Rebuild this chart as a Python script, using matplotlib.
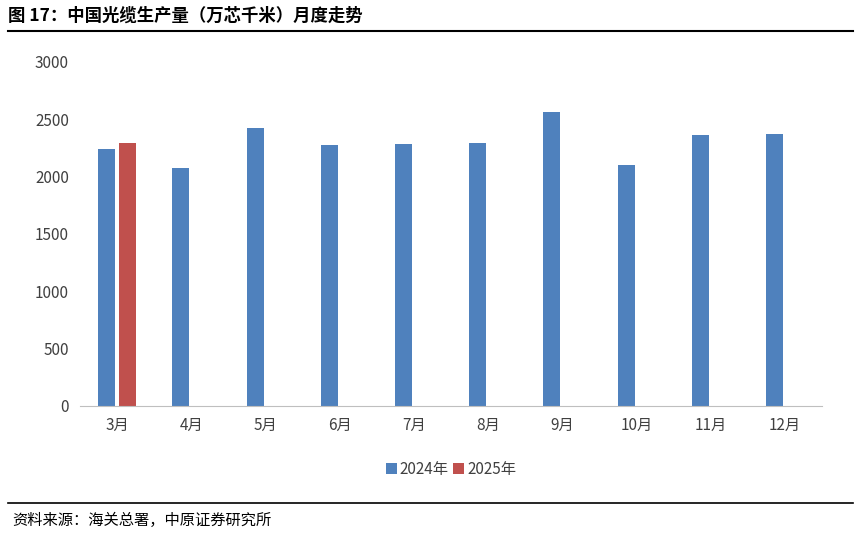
import matplotlib
matplotlib.use("Agg")
import matplotlib.pyplot as plt
import numpy as np

plt.rcParams['font.family'] = ['Noto Sans CJK SC', 'DejaVu Sans']

months = ["3月", "4月", "5月", "6月", "7月", "8月", "9月", "10月", "11月", "12月"]
v2024 = [2245, 2075, 2425, 2275, 2285, 2290, 2565, 2100, 2360, 2375]
v2025 = [2290, np.nan, np.nan, np.nan, np.nan, np.nan, np.nan, np.nan, np.nan, np.nan]

fig = plt.figure(figsize=(8.61, 5.34), dpi=100)
ax = fig.add_axes([80/861, 1-406/534, 742/861, 344/534])

x = np.arange(len(months))
w = 0.23
ax.bar(x - 0.14, v2024, w, color="#4f81bd", label="2024年")
ax.bar(x + 0.14, v2025, w, color="#c0504d", label="2025年")

ax.set_xlim(-0.5, len(months) - 0.5)
ax.set_ylim(0, 3000)
ax.set_yticks(range(0, 3001, 500))
ax.set_xticks(x)
ax.set_xticklabels(months)
ax.tick_params(axis="both", length=0, labelsize=11, colors="#404040", pad=8)
for s in ["top", "right", "left"]:
    ax.spines[s].set_visible(False)
ax.spines["bottom"].set_color("#bfbfbf")

ax.legend(loc="upper center", bbox_to_anchor=(0.5, -0.12), ncol=2, frameon=False,
          fontsize=11, handlelength=0.7, handletextpad=0.2, columnspacing=0.3,
          labelcolor="#404040")

fig.text(8/861, 1-16/534, "图 17：中国光缆生产量（万芯千米）月度走势", fontsize=12.5,
         fontweight="bold", va="center", ha="left")
fig.add_artist(plt.Line2D([8/861, 853/861], [1-31/534, 1-31/534], color="black", lw=1.5))
fig.add_artist(plt.Line2D([8/861, 853/861], [1-503/534, 1-503/534], color="black", lw=1.2))
fig.text(12/861, 1-520/534, "资料来源：海关总署，中原证券研究所", fontsize=11,
         va="center", ha="left")

fig.savefig("out.png", dpi=100)
